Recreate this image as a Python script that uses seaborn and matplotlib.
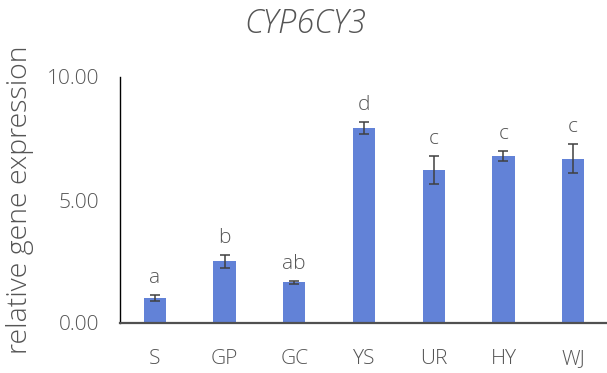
import matplotlib
matplotlib.use("Agg")
import matplotlib.pyplot as plt
import seaborn as sns
import pandas as pd

# Relative expression of CYP6CY3 per population
groups = ["S", "GP", "GC", "YS", "UR", "HY", "WJ"]
means = [1.02, 2.51, 1.65, 7.93, 6.22, 6.79, 6.68]
errors = [0.12, 0.27, 0.07, 0.26, 0.58, 0.20, 0.60]
letters = ["a", "b", "ab", "d", "c", "c", "c"]
y_ticks = [0, 5, 10]
y_tick_labels = ["0.00", "5.00", "10.00"]

sns.set_theme(style="white")
plt.rcParams["font.family"] = ["Open Sans", "DejaVu Sans"]
plt.rcParams["font.weight"] = "light"

text_grey = "#555555"
bar_blue = "#6282D7"

df = pd.DataFrame({"group": groups, "mean": means})

fig = plt.figure(figsize=(6.07, 3.73), dpi=100)
ax = fig.add_axes([120 / 607, 50 / 373, 488 / 607, 246 / 373])

sns.barplot(data=df, x="group", y="mean", color=bar_blue, saturation=1,
            width=0.32, errorbar=None, ax=ax, linewidth=0)

centers = [p.get_x() + p.get_width() / 2 for p in ax.patches]
ax.errorbar(centers, means, yerr=errors, fmt="none", ecolor="#404040",
            elinewidth=1.1, capsize=3.4, capthick=1.1, zorder=3)

for x, m, e, lab in zip(centers, means, errors, letters):
    ax.annotate(lab, xy=(x, m + e), xytext=(0, 8.5), textcoords="offset points",
                ha="center", va="baseline", fontsize=15, color=text_grey,
                fontweight="light")

ax.set_xlim(-0.5, len(groups) - 0.5)
ax.set_ylim(0, 10)
ax.set_yticks(y_ticks)
ax.set_yticklabels(y_tick_labels, fontweight="light")
ax.set_xticks(range(len(groups)))
ax.set_xticklabels(groups, fontweight="light")
ax.tick_params(axis="both", length=0, labelsize=15, colors=text_grey)
ax.tick_params(axis="y", pad=15)
ax.tick_params(axis="x", pad=19)
ax.set_xlabel("")
ax.set_ylabel("relative gene expression", fontsize=20.5, color=text_grey,
              labelpad=9, fontweight="light")

for side in ["top", "right"]:
    ax.spines[side].set_visible(False)
ax.spines["left"].set_color("black")
ax.spines["left"].set_linewidth(1.0)
ax.spines["bottom"].set_color("#505050")
ax.spines["bottom"].set_linewidth(1.6)

fig.text(305 / 607, 1 - 24 / 373, "CYP6CY3", ha="center", va="center",
         fontsize=23.5, style="italic", color=text_grey, fontweight="light")

fig.savefig("out.png", dpi=100)
